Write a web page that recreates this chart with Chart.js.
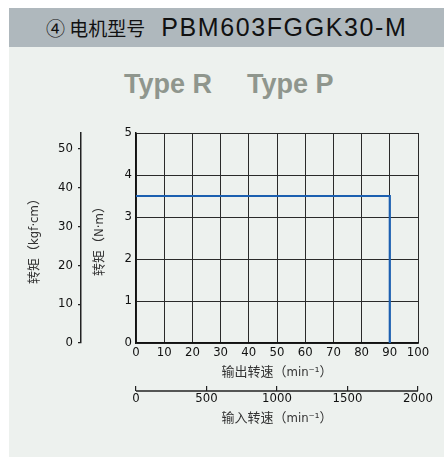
<!DOCTYPE html>
<html><head><meta charset="utf-8">
<script src="https://cdn.jsdelivr.net/npm/chart.js@4"></script>
<style>
html,body{margin:0;padding:0;background:#fff;}
#wrap{position:relative;width:444px;height:457px;overflow:hidden;background:#fff;}
#panel{position:absolute;left:9px;top:8px;width:435px;height:449px;background:#edf1ee;}
#hdr{position:absolute;left:9px;top:8px;width:435px;height:39px;background:#afb8bd;}
#hdrtxt{position:absolute;left:46px;top:8px;height:39px;line-height:39px;color:#111;white-space:nowrap;}
#hdrtxt .cjk{font-family:"Noto Sans CJK SC",sans-serif;font-size:19px;}
#hdrtxt .lat{font-family:"Liberation Sans",Arial,sans-serif;font-size:25px;letter-spacing:1.6px;margin-left:16px;}
.type{position:absolute;top:69px;font:bold 27px "Liberation Sans",Arial,sans-serif;color:#8f968d;white-space:nowrap;}
canvas{position:absolute;left:0;top:0;}
</style></head>
<body>
<div id="wrap">
<div id="panel"></div>
<div id="hdr"></div>
<div id="hdrtxt"><span class="cjk">④ 电机型号</span><span class="lat">PBM603FGGK30-M</span></div>
<div class="type" style="left:124px">Type R</div>
<div class="type" style="left:247px">Type P</div>
<canvas id="c" width="444" height="457"></canvas>
</div>
<script>
// ---- data ----
const outputSpeed = [0, 90, 90];      // min^-1 (output)
const torqueNm    = [3.5, 3.5, 0];    // N·m
const outTicks  = [0,10,20,30,40,50,60,70,80,90,100];
const inTicks   = [0,500,1000,1500,2000];
const nmTicks   = [0,1,2,3,4,5];
const kgfTicks  = [0,10,20,30,40,50];
const titleOut = '输出转速（min⁻¹）';
const titleIn  = '输入转速（min⁻¹）';
const titleNm  = '转矩（N·m）';
const titleKgf = '转矩（kgf·cm）';

const NUM_FONT = {family:"'DejaVu Sans Condensed','Liberation Sans Narrow',sans-serif", size:13};
const CJK_FONT = {family:"'DejaVu Sans Condensed','Noto Sans CJK SC',sans-serif", size:13};
const setTicks = arr => s => { s.ticks = arr.map(v => ({value:v})); };
const plain = v => String(v);

const x2Line = {
  id:'x2Line',
  afterDraw(chart){
    const s = chart.scales.x2, ctx = chart.ctx;
    const y = s.top + s.options.grid.tickLength;
    ctx.save();
    ctx.strokeStyle = '#222'; ctx.lineWidth = 1.5;
    ctx.beginPath(); ctx.moveTo(s.getPixelForValue(inTicks[0]), y); ctx.lineTo(s.getPixelForValue(inTicks[inTicks.length-1]), y); ctx.stroke();
    ctx.restore();
  }
};

new Chart(document.getElementById('c'), {
  type:'scatter',
  data:{datasets:[{
    data: outputSpeed.map((v,i)=>({x:v, y:torqueNm[i]})),
    showLine:true, borderColor:'#1b5fb0', borderWidth:2.2, pointRadius:0, fill:false,
    xAxisID:'x', yAxisID:'y'
  }]},
  options:{
    responsive:false, animation:false, devicePixelRatio:1,
    layout:{padding:{top:133,right:26,bottom:0,left:0}},
    plugins:{legend:{display:false}, tooltip:{enabled:false}},
    scales:{
      x:{type:'linear', position:'bottom', weight:0, min:0, max:100,
        afterBuildTicks:setTicks(outTicks),
        ticks:{font:NUM_FONT, color:'#111', padding:2, maxRotation:0, callback:plain},
        grid:{color:'#2a2a2a', lineWidth:1, tickLength:0},
        border:{color:'#111', width:1.5},
        title:{display:true, text:titleOut, font:CJK_FONT, color:'#333', padding:{top:0,bottom:6}},
        afterFit:s=>{s.height=43;}
      },
      x2:{type:'linear', position:'bottom', weight:1, min:0, max:2000,
        afterBuildTicks:setTicks(inTicks),
        ticks:{font:NUM_FONT, color:'#111', padding:0, maxRotation:0, callback:plain},
        grid:{display:true, drawOnChartArea:false, color:'#222', lineWidth:1.2, tickLength:5},
        border:{display:false},
        title:{display:true, text:titleIn, font:CJK_FONT, color:'#333', padding:{top:0,bottom:31}},
        afterFit:s=>{s.height=71;}
      },
      y:{type:'linear', position:'left', weight:0, min:0, max:5,
        afterBuildTicks:setTicks(nmTicks),
        ticks:{font:NUM_FONT, color:'#111', padding:4, callback:plain},
        grid:{color:'#2a2a2a', lineWidth:1, tickLength:0},
        border:{color:'#111', width:1.5},
        title:{display:true, text:titleNm, font:CJK_FONT, color:'#333', padding:{top:11,bottom:0}},
        afterFit:s=>{s.width=55;}
      },
      yk:{type:'linear', position:'left', weight:1, min:0, max:54,
        afterBuildTicks:setTicks(kgfTicks),
        ticks:{font:NUM_FONT, color:'#111', padding:5, callback:plain},
        grid:{display:true, drawOnChartArea:false, color:'#222', lineWidth:1.2, tickLength:3},
        border:{color:'#222', width:1.5},
        title:{display:true, text:titleKgf, font:CJK_FONT, color:'#333', padding:{top:27,bottom:0}},
        afterFit:s=>{s.width=81;}
      }
    }
  },
  plugins:[x2Line]
});
</script>
</body></html>
